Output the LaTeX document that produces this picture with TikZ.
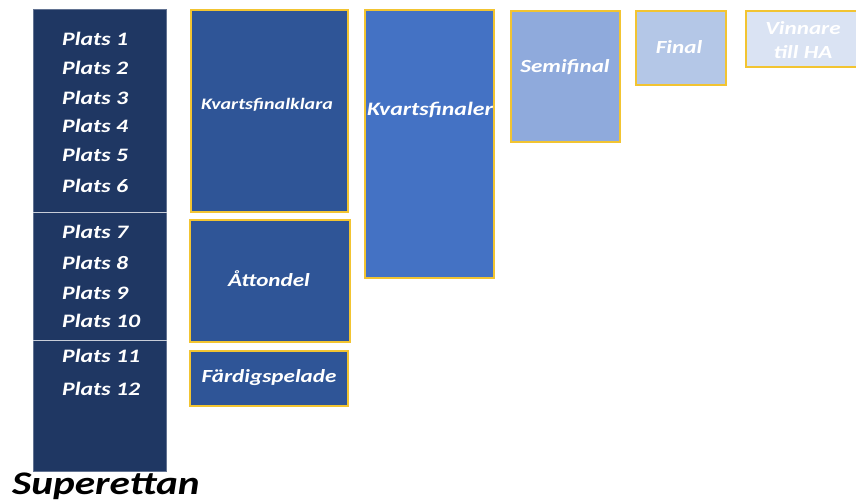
\documentclass[tikz,border=0pt]{standalone}
\usepackage{fontspec}
\setmainfont{Carlito}[FakeStretch=1.25]
\definecolor{navy}{HTML}{1F3763}
\definecolor{kvklara}{HTML}{2F5597}
\definecolor{kvart}{HTML}{4472C4}
\definecolor{semi}{HTML}{8FAADC}
\definecolor{fin}{HTML}{B4C7E7}
\definecolor{vinn}{HTML}{DAE3F3}
\definecolor{guld}{HTML}{F2C431}
\begin{document}
\begin{tikzpicture}[x=1pt,y=-1pt,
	stage/.style={draw=guld, line width=1.6pt, inner sep=0pt, anchor=north west},
	stagetext/.style={text=white, align=center, inner sep=0pt, font=\fontsize{18.5}{22}\selectfont\bfseries\itshape},
	plats/.style={text=white, anchor=west, inner sep=0pt, font=\fontsize{19}{20}\selectfont\bfseries\itshape}]
	\useasboundingbox (0,0) rectangle (856,499);
	% tabellen
	\node[fill=navy, draw=navy!70!white, line width=0.8pt, anchor=north west,
		minimum width=133pt, minimum height=462pt, inner sep=0pt] (tabell) at (33,9) {};
	\draw[white!75!navy, line width=1pt] (tabell.west |- 0,212) -- (tabell.east |- 0,212);
	\draw[white!75!navy, line width=1pt] (tabell.west |- 0,340) -- (tabell.east |- 0,340);
	\foreach \n/\y in {1/39,2/68,3/98,4/126,5/155,6/186,7/232,8/263,9/293,10/321,11/356,12/389}
		\node[plats] (p\n) at (62,\y) {Plats \n};
	% slutspelet
	\node[stage, fill=kvklara, minimum width=157pt, minimum height=202pt] (klara) at (190,9) {};
	\node[stagetext, font=\fontsize{16}{18}\selectfont\bfseries\itshape] at (267,105) {Kvartsfinalklara};
	\node[stage, fill=kvklara, minimum width=160pt, minimum height=122pt] (attondel) at (189,219) {};
	\node[stagetext] at (269,279) {Åttondel};
	\node[stage, fill=kvklara, minimum width=158pt, minimum height=55pt] (fardig) at (189,350) {};
	\node[stagetext] at (269,378) {Färdigspelade};
	\node[stage, fill=kvart, minimum width=129pt, minimum height=268pt] (kvartsfinal) at (364,9) {};
	\node[stagetext, font=\fontsize{19}{22}\selectfont\bfseries\itshape] at (430,110) {Kvartsfinaler};
	\node[stage, fill=semi, minimum width=109pt, minimum height=131pt] (semi) at (510,10) {};
	\node[stagetext] at (565,67) {Semifinal};
	\node[stage, fill=fin, minimum width=90pt, minimum height=74pt] (final) at (635,10) {};
	\node[stagetext] at (679,47) {Final};
	\node[stage, fill=vinn, minimum width=115pt, minimum height=56pt] (vinnare) at (745,10) {};
	\node[stagetext, font=\fontsize{18.5}{24}\selectfont\bfseries\itshape] at (803,40) {Vinnare\\till HA};
	% serien
	\node[anchor=base west, inner sep=0pt, font=\fontsize{33}{36}\selectfont\bfseries\itshape] (serie) at (12,494) {Superettan};
\end{tikzpicture}
\end{document}
